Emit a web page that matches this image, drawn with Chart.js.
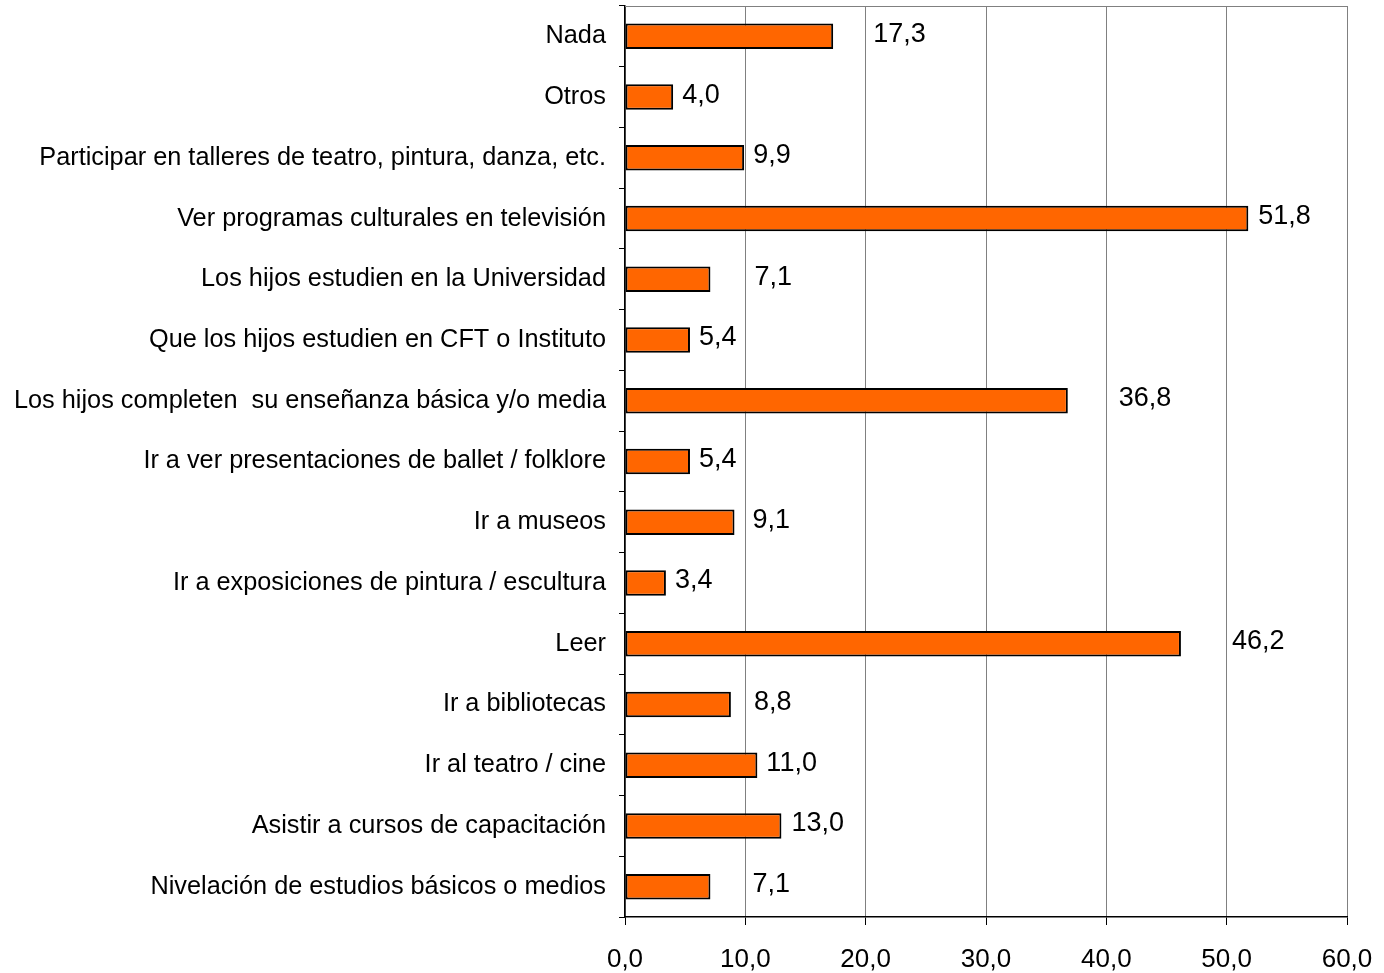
<!DOCTYPE html>
<html>
<head>
<meta charset="utf-8">
<script src="https://cdn.jsdelivr.net/npm/chart.js@4"></script>
<style>
  html, body { margin: 0; padding: 0; background: #fff; }
  #wrap { width: 1384px; height: 973px; }
</style>
</head>
<body>
<div id="wrap"><canvas id="chart"></canvas></div>
<script>
// categories, top to bottom
const categories = [
    'Nada',
    'Otros',
    'Participar en talleres de teatro, pintura, danza, etc.',
    'Ver programas culturales en televisión',
    'Los hijos estudien en la Universidad',
    'Que los hijos estudien en CFT o Instituto',
    'Los hijos completen  su enseñanza básica y/o media',
    'Ir a ver presentaciones de ballet / folklore',
    'Ir a museos',
    'Ir a exposiciones de pintura / escultura',
    'Leer',
    'Ir a bibliotecas',
    'Ir al teatro / cine',
    'Asistir a cursos de capacitación',
    'Nivelación de estudios básicos o medios'
];
const values = [17.3, 4.0, 9.9, 51.8, 7.1, 5.4, 36.8, 5.4, 9.1, 3.4, 46.2, 8.8, 11.0, 13.0, 7.1];
const xTicks = [0, 10, 20, 30, 40, 50, 60];

// gap (px) between bar end and its value label, as in the original
const labelGap = [40, 9, 9, 10, 44, 9, 51, 9, 18, 9, 51, 23, 9, 10, 42];

const fmt = (v) => v.toFixed(1).replace('.', ',');
const FONT = '"Liberation Sans", Arial, sans-serif';

// value labels + top border line
const extras = {
    id: 'extras',
    afterDraw(chart) {
        const ctx = chart.ctx;
        const area = chart.chartArea;
        const meta = chart.getDatasetMeta(0);

        ctx.save();
        ctx.strokeStyle = '#808080';
        ctx.lineWidth = 1;
        ctx.beginPath();
        ctx.moveTo(area.left, area.top + 0.5);
        ctx.lineTo(area.right, area.top + 0.5);
        ctx.stroke();

        ctx.fillStyle = '#000';
        ctx.font = '27px ' + FONT;
        ctx.textBaseline = 'middle';
        ctx.textAlign = 'left';
        meta.data.forEach((bar, i) => {
            ctx.fillText(fmt(values[i]), bar.x + labelGap[i], bar.y - 2);
        });
        ctx.restore();
    }
};

new Chart(document.getElementById('chart'), {
    type: 'bar',
    data: {
        labels: categories,
        datasets: [{
            data: values,
            backgroundColor: '#FF6600',
            borderColor: '#000000',
            borderWidth: 2,
            borderSkipped: false,
            barPercentage: 0.42,
            categoryPercentage: 1.0
        }]
    },
    options: {
        indexAxis: 'y',
        responsive: true,
        maintainAspectRatio: false,
        animation: false,
        layout: { padding: { top: 6, right: 37, left: 0, bottom: 0 } },
        plugins: {
            legend: { display: false },
            tooltip: { enabled: false }
        },
        scales: {
            x: {
                min: 0,
                max: 60,
                afterBuildTicks: (scale) => {
                    scale.ticks = xTicks.map((v) => ({ value: v }));
                },
                afterFit: (scale) => {
                    scale.height = 56;
                    scale.paddingLeft = 0;
                    scale.paddingRight = 0;
                },
                grid: {
                    color: '#808080',
                    lineWidth: 1,
                    tickColor: '#000000',
                    tickLength: 8
                },
                border: { color: '#000000', width: 1.5 },
                ticks: {
                    color: '#000000',
                    padding: 19,
                    maxRotation: 0,
                    callback: (v) => fmt(v),
                    font: { family: FONT, size: 26 }
                }
            },
            y: {
                afterFit: (scale) => {
                    scale.width = 625;
                    scale.paddingTop = 0;
                    scale.paddingBottom = 0;
                },
                grid: {
                    drawOnChartArea: false,
                    color: '#000000',
                    tickLength: 6,
                    offset: true
                },
                border: { color: '#000000', width: 1.5 },
                ticks: {
                    color: '#000000',
                    padding: 13,
                    autoSkip: false,
                    font: { family: FONT, size: 25.3 }
                }
            }
        }
    },
    plugins: [extras]
});
</script>
</body>
</html>
